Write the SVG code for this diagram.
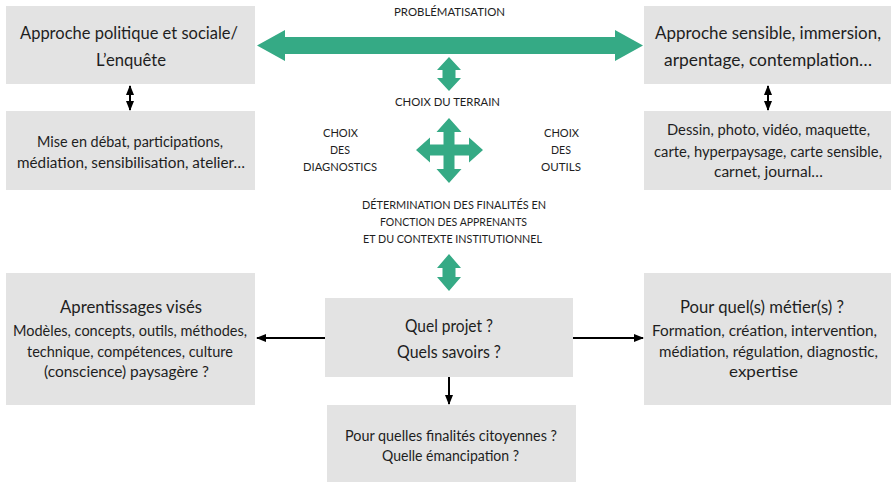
<svg xmlns="http://www.w3.org/2000/svg" width="893" height="483" viewBox="0 0 893 483">
<style>
.box{fill:#e3e3e3}
text{font-family:Lato,"Open Sans","Liberation Sans",sans-serif;fill:#1e1e1e}
.lg{font-size:17.5px}
.md{font-size:17px}
.sm{font-size:14.5px}
.cap{font-size:12px}
.green{fill:#35aa85}
.conn{stroke:#000;stroke-width:2;fill:none}
</style>
<defs>
<marker id="ah" markerUnits="userSpaceOnUse" markerWidth="10" markerHeight="10" viewBox="0 0 10 10" refX="9" refY="5" orient="auto-start-reverse">
<path d="M0,1 L10,5 L0,9 Z" fill="#000"/>
</marker>
</defs>
<rect width="893" height="483" fill="#fff"/>

<g id="n-politique">
<rect class="box" x="6" y="6" width="249" height="78"/>
<text class="lg" x="20" y="39" textLength="218" lengthAdjust="spacingAndGlyphs">Approche politique et sociale/</text>
<text class="lg" x="96" y="66" textLength="70" lengthAdjust="spacingAndGlyphs">L’enquête</text>
</g>
<g id="n-mise">
<rect class="box" x="6" y="111" width="249" height="79"/>
<text class="sm" x="37" y="147" textLength="186" lengthAdjust="spacingAndGlyphs">Mise en débat, participations,</text>
<text class="sm" x="17" y="168" textLength="228" lengthAdjust="spacingAndGlyphs">médiation, sensibilisation, atelier…</text>
</g>
<g id="n-sensible">
<rect class="box" x="644" y="6" width="247" height="78"/>
<text class="lg" x="655" y="39" textLength="226" lengthAdjust="spacingAndGlyphs">Approche sensible, immersion,</text>
<text class="lg" x="664" y="66" textLength="208" lengthAdjust="spacingAndGlyphs">arpentage, contemplation…</text>
</g>
<g id="n-dessin">
<rect class="box" x="644" y="111" width="247" height="79"/>
<text class="sm" x="667" y="135" textLength="203" lengthAdjust="spacingAndGlyphs">Dessin, photo, vidéo, maquette,</text>
<text class="sm" x="654" y="157" textLength="228" lengthAdjust="spacingAndGlyphs">carte, hyperpaysage, carte sensible,</text>
<text class="sm" x="714" y="177" textLength="109" lengthAdjust="spacingAndGlyphs">carnet, journal…</text>
</g>
<g id="n-apprentissages">
<rect class="box" x="6" y="273" width="249" height="132"/>
<text class="md" x="60" y="313" textLength="142" lengthAdjust="spacingAndGlyphs">Aprentissages visés</text>
<text class="sm" x="13" y="336" textLength="234" lengthAdjust="spacingAndGlyphs">Modèles, concepts, outils, méthodes,</text>
<text class="sm" x="27" y="357" textLength="206" lengthAdjust="spacingAndGlyphs">technique, compétences, culture</text>
<text class="sm" x="44" y="377" textLength="165" lengthAdjust="spacingAndGlyphs">(conscience) paysagère ?</text>
</g>
<g id="n-projet">
<rect class="box" x="325" y="298" width="248" height="79"/>
<text class="md" x="405" y="332" textLength="88" lengthAdjust="spacingAndGlyphs">Quel projet ?</text>
<text class="md" x="397" y="358" textLength="104" lengthAdjust="spacingAndGlyphs">Quels savoirs ?</text>
</g>
<g id="n-metiers">
<rect class="box" x="644" y="273" width="247" height="132"/>
<text class="md" x="680" y="313" textLength="164" lengthAdjust="spacingAndGlyphs">Pour quel(s) métier(s) ?</text>
<text class="sm" x="652" y="336" textLength="225" lengthAdjust="spacingAndGlyphs">Formation, création, intervention,</text>
<text class="sm" x="659" y="357" textLength="219" lengthAdjust="spacingAndGlyphs">médiation, régulation, diagnostic,</text>
<text class="sm" x="729" y="377" textLength="69" lengthAdjust="spacingAndGlyphs">expertise</text>
</g>
<g id="n-finalites">
<rect class="box" x="327" y="405" width="249" height="77"/>
<text class="sm" x="345" y="441" textLength="212" lengthAdjust="spacingAndGlyphs">Pour quelles finalités citoyennes ?</text>
<text class="sm" x="382" y="461" textLength="137" lengthAdjust="spacingAndGlyphs">Quelle émancipation ?</text>
</g>

<g id="labels">
<text class="cap" x="394" y="16" textLength="111" lengthAdjust="spacingAndGlyphs">PROBLÉMATISATION</text>
<text class="cap" x="395" y="106" textLength="105" lengthAdjust="spacingAndGlyphs">CHOIX DU TERRAIN</text>
<text class="cap" x="323" y="137" textLength="35" lengthAdjust="spacingAndGlyphs">CHOIX</text>
<text class="cap" x="330" y="154" textLength="20" lengthAdjust="spacingAndGlyphs">DES</text>
<text class="cap" x="303" y="171" textLength="74" lengthAdjust="spacingAndGlyphs">DIAGNOSTICS</text>
<text class="cap" x="544" y="137" textLength="35" lengthAdjust="spacingAndGlyphs">CHOIX</text>
<text class="cap" x="551" y="154" textLength="20" lengthAdjust="spacingAndGlyphs">DES</text>
<text class="cap" x="541" y="171" textLength="40" lengthAdjust="spacingAndGlyphs">OUTILS</text>
<text class="cap" x="362" y="209" textLength="184" lengthAdjust="spacingAndGlyphs">DÉTERMINATION DES FINALITÉS EN</text>
<text class="cap" x="380" y="226" textLength="147" lengthAdjust="spacingAndGlyphs">FONCTION DES APPRENANTS</text>
<text class="cap" x="363" y="243" textLength="179" lengthAdjust="spacingAndGlyphs">ET DU CONTEXTE INSTITUTIONNEL</text>
</g>

<g id="connectors">
<polygon class="green" points="257,45.5 285,30 285,37 615,37 615,30 643,45.5 615,61 615,54 285,54 285,61"/>
<polygon class="green" points="449,57 461,70 455.5,70 455.5,78 461,78 449,91 437,78 442.5,78 442.5,70 437,70"/>
<polygon class="green" points="449,118 461.5,132 454.5,132 454.5,144.5 469,144.5 469,137.5 483,150 469,162.5 469,155.5 454.5,155.5 454.5,169 461.5,169 449,183 436.5,169 443.5,169 443.5,155.5 430,155.5 430,162.5 416,150 430,137.5 430,144.5 443.5,144.5 443.5,132 436.5,132"/>
<polygon class="green" points="449,254 461,268 455.5,268 455.5,277 461,277 449,291 437,277 442.5,277 442.5,268 437,268"/>
<line class="conn" x1="130" y1="86" x2="130" y2="110" marker-start="url(#ah)" marker-end="url(#ah)"/>
<line class="conn" x1="768" y1="86" x2="768" y2="110" marker-start="url(#ah)" marker-end="url(#ah)"/>
<line class="conn" x1="325" y1="338" x2="257" y2="338" marker-end="url(#ah)"/>
<line class="conn" x1="573" y1="338" x2="643" y2="338" marker-end="url(#ah)"/>
<line class="conn" x1="449" y1="377" x2="449" y2="404" marker-end="url(#ah)"/>
</g>
</svg>
